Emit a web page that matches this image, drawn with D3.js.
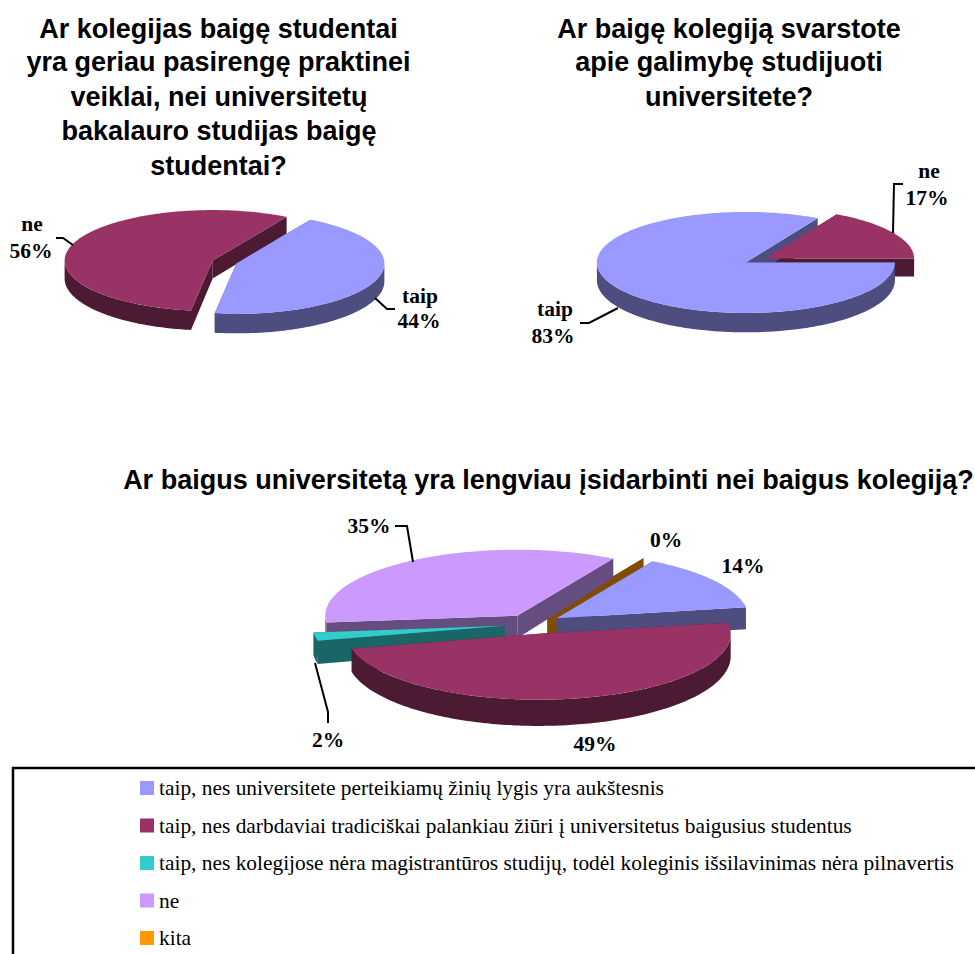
<!DOCTYPE html>
<html>
<head>
<meta charset="utf-8">
<script src="https://cdn.jsdelivr.net/npm/d3@7"></script>
<style>
  html, body { margin: 0; padding: 0; background: #fff; overflow: hidden; }
  svg { display: block; }
  .title { font-family: "Liberation Sans", Arial, sans-serif; font-weight: bold; font-size: 27px; text-anchor: middle; fill: #000; }
  .lbl { font-family: "Liberation Serif", "Times New Roman", serif; font-weight: bold; font-size: 21.5px; text-anchor: middle; fill: #000; }
  .leg { font-family: "Liberation Serif", "Times New Roman", serif; font-size: 21.4px; fill: #000; }
  .leader { fill: none; stroke: #000; stroke-width: 2; }
</style>
</head>
<body>
<svg id="chart" width="975" height="954"></svg>
<script>
// data
var pie1Names = ["taip", "ne"];
var pie1Values = [44, 56];
var pie2Names = ["taip", "ne"];
var pie2Values = [83, 17];
var pie3Names = [
  "taip, nes universitete perteikiamų žinių lygis yra aukštesnis",
  "taip, nes darbdaviai tradiciškai palankiau žiūri į universitetus baigusius studentus",
  "taip, nes kolegijose nėra magistrantūros studijų, todėl koleginis išsilavinimas nėra pilnavertis",
  "ne",
  "kita"
];
var pie3Values = [14, 49, 2, 35, 0];

var topColors = ["#9999ff", "#993366", "#33cccc", "#cc99ff", "#ff9900"];
var pie3Colors = topColors;
var pie12Colors = topColors.slice(0, 2);

var svg = d3.select("#chart");
var rad = Math.PI / 180;

// one exploded pie seen from above, angles run clockwise from the top
function pie3d(values, colors, o) {
  var slices = d3.pie().sort(null)
    .startAngle(o.start * rad)
    .endAngle((o.start + 360) * rad)(values);

  var sx = d3.scaleLinear().domain([-1, 1]).range([o.cx - o.rx, o.cx + o.rx]);
  var sy = d3.scaleLinear().domain([-1, 1]).range([o.cy - o.ry, o.cy + o.ry]);
  var line = d3.line().x(function(p) { return p[0]; }).y(function(p) { return p[1]; });

  slices.forEach(function(s) { s.mid = (s.startAngle + s.endAngle) / 2; });
  slices.sort(function(a, b) { return -Math.cos(a.mid) + Math.cos(b.mid); });

  // sides first, tops over all of them
  var sides = svg.append("g");
  var tops = svg.append("g");
  slices.forEach(function(s) {
    var dx = o.explode * Math.sin(s.mid), dy = -o.explode * Math.cos(s.mid);
    function top(t, r) {
      return [sx(dx + r * Math.sin(t)), sy(dy - r * Math.cos(t))];
    }
    function bottom(t, r) {
      var p = top(t, r);
      return [p[0], p[1] + o.depth * (1 - o.persp * r * Math.cos(t))];
    }
    function arc(a0, a1, f) {
      var n = Math.max(2, Math.ceil((a1 - a0) / rad));
      return d3.range(n + 1).map(function(i) { return f(a0 + (a1 - a0) * i / n, 1); });
    }
    var fill = colors[s.index];
    var c = d3.rgb(fill);
    var dark = d3.rgb(Math.round(c.r / 2), Math.round(c.g / 2), Math.round(c.b / 2));

    // the two cut faces, the top covers whichever looks away
    [s.startAngle, s.endAngle].forEach(function(t) {
      sides.append("path")
        .attr("d", line([top(t, 0), top(t, 1), bottom(t, 1), bottom(t, 0)]) + "Z")
        .attr("fill", dark);
    });
    // outer wall, only the front half of the rim
    var a0 = Math.max(s.startAngle, 90 * rad), a1 = Math.min(s.endAngle, 270 * rad);
    if (a1 > a0) {
      var wall = arc(a0, a1, top).concat(arc(a0, a1, bottom).reverse());
      sides.append("path").attr("d", line(wall) + "Z").attr("fill", dark);
    }
    if (s.endAngle > s.startAngle) {
      var pts = [top(0, 0)].concat(arc(s.startAngle, s.endAngle, top));
      tops.append("path").attr("d", line(pts) + "Z").attr("fill", fill);
    }
  });
}

pie3d(pie1Values, pie12Colors, { cx: 224.5, cy: 262, rx: 148, ry: 50.5, depth: 18, persp: 0.08, explode: 0.085, start: 30 });
pie3d(pie2Values, pie12Colors, { cx: 755.5, cy: 260.5, rx: 149, ry: 50.5, depth: 18, persp: 0.08, explode: 0.075, start: 90 });
pie3d(pie3Values, pie3Colors, { cx: 533, cy: 624, rx: 192, ry: 66, depth: 22.5, persp: 0.165, explode: 0.15, start: 30 });

// titles
var titleLines = [
  ["Ar kolegijas baigę studentai", 218.5, 37.5],
  ["yra geriau pasirengę praktinei", 218.5, 70.5],
  ["veiklai, nei universitetų", 219, 106],
  ["bakalauro studijas baigę", 219, 140],
  ["studentai?", 218.5, 175],
  ["Ar baigę kolegiją svarstote", 729, 37.5],
  ["apie galimybę studijuoti", 729, 70.5],
  ["universitete?", 729, 106],
  ["Ar baigus universitetą yra lengviau įsidarbinti nei baigus kolegiją?", 548.5, 489]
];
svg.selectAll("text.title").data(titleLines).enter().append("text")
  .attr("class", "title")
  .attr("x", function(d) { return d[1]; })
  .attr("y", function(d) { return d[2]; })
  .text(function(d) { return d[0]; });

// data labels
var labelTexts = [
  ["ne", 32, 231], [pie1Values[1] + "%", 31, 258],
  ["taip", 420, 303], [pie1Values[0] + "%", 419, 328],
  ["ne", 929, 178], [pie2Values[1] + "%", 927, 205],
  ["taip", 555, 316], [pie2Values[0] + "%", 553, 343],
  [pie3Values[3] + "%", 369, 533],
  [pie3Values[4] + "%", 666, 547],
  [pie3Values[0] + "%", 743, 573],
  [pie3Values[2] + "%", 328, 747],
  [pie3Values[1] + "%", 595, 751]
];
svg.selectAll("text.lbl").data(labelTexts).enter().append("text")
  .attr("class", "lbl")
  .attr("x", function(d) { return d[1]; })
  .attr("y", function(d) { return d[2]; })
  .text(function(d) { return d[0]; });

// leader lines
var leaders = [
  [[56, 238], [63, 238], [73, 245]],
  [[375, 298], [387, 309], [395, 309]],
  [[903, 184], [894, 184], [893, 233]],
  [[580, 323], [589, 323], [618, 308]],
  [[395, 526], [407, 526], [413, 562]],
  [[315, 663], [328, 712], [328, 723]]
];
svg.selectAll("path.leader").data(leaders).enter().append("path")
  .attr("class", "leader")
  .attr("d", d3.line());

// legend, box runs off the picture on the right and at the bottom
svg.append("rect")
  .attr("x", 13).attr("y", 768)
  .attr("width", 1000).attr("height", 240)
  .attr("fill", "none").attr("stroke", "#000").attr("stroke-width", 2.5);

var legendY = d3.scalePoint().domain(pie3Names).range([788, 938]);
var legend = svg.selectAll("g.legend").data(pie3Names).enter().append("g").attr("class", "legend");
legend.append("rect")
  .attr("x", 140).attr("width", 14).attr("height", 14)
  .attr("y", function(d) { return legendY(d) - 7; })
  .attr("fill", function(d, i) { return pie3Colors[i]; });
legend.append("text")
  .attr("class", "leg")
  .attr("x", 159)
  .attr("y", function(d) { return legendY(d) + 7; })
  .text(function(d) { return d; });
</script>
</body>
</html>
